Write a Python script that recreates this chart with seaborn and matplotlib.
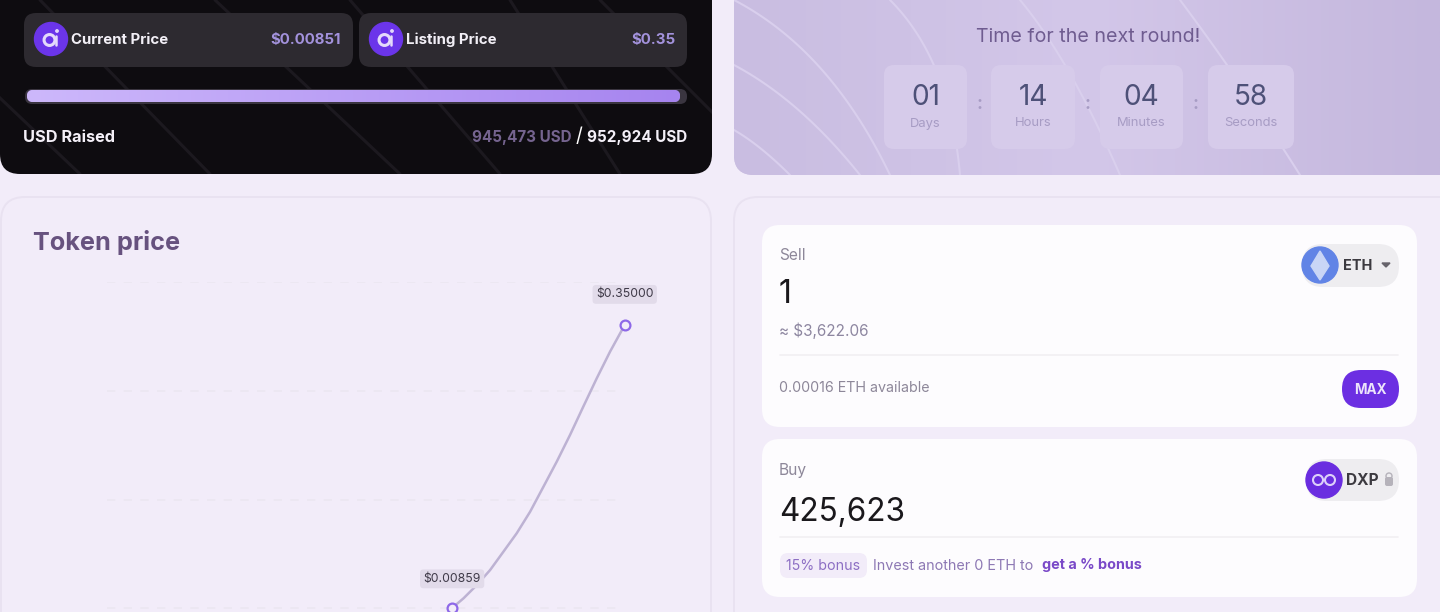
# -*- coding: utf-8 -*-
import numpy as np
import pandas as pd
import matplotlib.pyplot as plt
import seaborn as sns
from matplotlib.patches import FancyBboxPatch, Circle, Polygon

# token price curve, rounds on x and price in USD on y
curve_round = [3.0, 3.066, 3.143, 3.22, 3.297, 3.374, 3.452, 3.529, 3.606, 3.683, 3.76, 3.838, 3.915, 4.0]
curve_price = [0.00859, 0.0203, 0.0363, 0.0544, 0.0765, 0.0987, 0.1248, 0.1549, 0.1851, 0.2173,
               0.2515, 0.2857, 0.3178, 0.35]
point_round = [3.0, 4.0]
point_price = [0.00859, 0.35]
point_labels = ["$0.00859", "$0.35000"]
grid_prices = [0.00859, 0.1389, 0.2703, 0.4018]

# countdown
timer_values = ["01", "14", "04", "58"]
timer_units = ["Days", "Hours", "Minutes", "Seconds"]

BG = "#f2ecf9"
PURPLE = "#6c2fe2"
LILAC = "#a392dc"

sns.set_theme(style="white")
plt.rcParams["font.family"] = ["Inter", "DejaVu Sans"]

fig = plt.figure(figsize=(14.4, 6.12), dpi=100, facecolor=BG)

# page layer in screen pixels
page = fig.add_axes([0, 0, 1, 1])
page.set_axis_off()


def box(x0, y0, x1, y1, r, color, edge="none", lw=0, z=1, alpha=1):
    p = FancyBboxPatch((x0, y0), x1 - x0, y1 - y0,
                       boxstyle=f"round,pad=0,rounding_size={r}",
                       facecolor=color, edgecolor=edge, linewidth=lw, zorder=z, alpha=alpha)
    page.add_patch(p)
    return p


def label(x, y, s, px, color, ha="left", weight="normal"):
    page.text(x, y + 1.5, s, fontsize=px / 1.389, color=color, ha=ha, va="center",
              weight=weight, zorder=6)


def logo(x, y, r=16.5):
    page.add_patch(Circle((x, y), r, color="#6b35ea", zorder=4))
    page.add_patch(Circle((x - 1.5, y + 1), r * 0.33, facecolor="none", edgecolor="#e4dafb",
                          linewidth=2.2, zorder=5))
    page.plot([x + 4.5, x + 4.5], [y - 3, y + 6], color="#e4dafb", lw=1.8, zorder=5)
    page.add_patch(Circle((x + 6, y - 8), 1.2, color="#e4dafb", zorder=5))


# dark panel
dark = box(0, -30, 712, 174, 20, "#0e0c10")
for x0, x1, y0, y1 in [(40, 210, 0, 174), (215, 400, 0, 174), (350, 500, 0, 174),
                       (510, 620, 0, 174), (-40, 80, 60, 174), (600, 720, 0, 120)]:
    ln, = page.plot([x0, x1], [y0, y1], color="#1c191f", lw=2.2, zorder=1.5)
    ln.set_clip_path(dark)

box(24, 13, 353, 67, 12, "#2d2a30", z=2)
box(359, 13, 687, 67, 12, "#2d2a30", z=2)
logo(51, 39)
logo(386, 39)
label(71, 38.5, "Current Price", 15, "#f2eff6", weight="bold")
label(406, 38.5, "Listing Price", 15, "#f2eff6", weight="bold")
label(341, 38.5, "$0.00851", 15, LILAC, ha="right", weight="bold")
label(676, 38.5, "$0.35", 15, LILAC, ha="right", weight="bold")

box(25, 89, 687, 104, 7, "#3a3540", z=2)
bar = box(27, 90, 680, 102, 6, "#b899f5", z=3)
grad = np.linspace(0, 1, 256).reshape(1, -1)
im = page.imshow(grad, extent=(27, 680, 102, 90), aspect="auto", zorder=3.1,
                 cmap=sns.blend_palette(["#cdb8fb", "#a684ef"], as_cmap=True))
im.set_clip_path(bar)

label(23, 136, "USD Raised", 16.3, "#f4f0f8", weight="bold")
label(687, 136, "952,924 USD", 15.2, "#f4f0f8", ha="right", weight="bold")
label(579, 136, "/", 19, "white", ha="center")
label(572, 136, "945,473 USD", 15.2, "#75648f", ha="right", weight="bold")

# purple panel
timer = box(734, -30, 1470, 175, 20, "#c9bde0")
glow = page.imshow(np.linspace(0, 1, 256).reshape(1, -1), extent=(734, 1440, 175, -30), aspect="auto",
                   zorder=1.1, cmap=sns.blend_palette(["#c9bde1", "#d3c7e9", "#c4b7dd"], as_cmap=True))
glow.set_clip_path(timer)
for x0, y0, x1, y1, x2, y2 in [(734, 0, 830, 50, 890, 175), (734, 65, 800, 100, 860, 175),
                               (734, 130, 760, 145, 790, 175), (890, 0, 950, 60, 960, 175),
                               (1020, 0, 1070, 60, 1120, 175), (1180, 0, 1240, 80, 1300, 175)]:
    t = np.linspace(0, 1, 40)
    xs = (1 - t) ** 2 * x0 + 2 * t * (1 - t) * x1 + t ** 2 * x2
    ys = (1 - t) ** 2 * y0 + 2 * t * (1 - t) * y1 + t ** 2 * y2
    ln, = page.plot(xs, ys, color="#d9cfed", lw=1.5, zorder=1.5)
    ln.set_clip_path(timer)

label(1088, 35, "Time for the next round!", 19.6, "#6f5c90", ha="center")
box_edges = [(884, 967), (991, 1075), (1100, 1183), (1208, 1294)]
for (x0, x1), val, unit in zip(box_edges, timer_values, timer_units):
    box(x0, 65, x1, 149, 10, "#d6cbea", z=2)
    label((x0 + x1) / 2, 96, val, 28, "#4e5178", ha="center")
    label((x0 + x1) / 2, 122, unit, 13, "#a79cc4", ha="center")
for x in [979, 1087, 1195]:
    label(x, 103, ":", 18, "#a79cc4", ha="center", weight="bold")

# lower panels
box(1, 197, 711, 660, 24, BG, edge="#e9e2f1", lw=1.4)
box(734, 197, 1470, 660, 24, BG, edge="#e9e2f1", lw=1.4)
label(33, 241, "Token price", 25.3, "#67527f", weight="bold")

# swap cards
box(762, 225, 1417, 427, 18, "#fdfcfe", z=2)
box(762, 439, 1417, 597, 18, "#fdfcfe", z=2)
label(779, 254, "Sell", 15.5, "#8d8799")
label(779, 293, "1", 32, "#1a181c")
label(779, 329, "≈ $3,622.06", 15.3, "#8d86a0")
label(779, 387, "0.00016 ETH available", 14.3, "#8d8799")
label(779, 469, "Buy", 15.5, "#8d8799")
label(779, 511, "425,623", 31.5, "#1a181c")
page.plot([780, 1398], [355, 355], color="#f1eff3", lw=1.2, zorder=3)
page.plot([780, 1398], [537, 537], color="#f1eff3", lw=1.2, zorder=3)

box(1302, 244, 1399, 287, 21, "#eeedf0", z=3)
page.add_patch(Circle((1320, 265), 18, color="#6184e6", zorder=4))
page.add_patch(Polygon([(1320, 251), (1329, 266), (1320, 280), (1311, 266)], color="#c9d6f6", zorder=5))
label(1343, 264, "ETH", 14.5, "#3c3a40", weight="bold")
page.add_patch(Polygon([(1382, 263), (1390, 263), (1386, 267)], color="#66636b", zorder=5))

box(1342, 370, 1399, 408, 19, PURPLE, z=3)
label(1370.5, 388, "MAX", 13.5, "#ece4fb", ha="center", weight="bold")

box(1306, 459, 1399, 501, 21, "#eeedf0", z=3)
page.add_patch(Circle((1324, 480), 18, color="#6a2de0", zorder=4))
for cx in [1318, 1330]:
    page.add_patch(Circle((cx, 480), 5, facecolor="none", edgecolor="#ddd0fa", linewidth=1.5, zorder=5))
label(1346, 479, "DXP", 15.5, "#3c3a40", weight="bold")
box(1385, 477, 1393, 486, 2, "#b5b2ba", z=5)
page.add_patch(Circle((1389, 476), 3, facecolor="none", edgecolor="#b5b2ba", linewidth=1, zorder=5))

box(780, 553, 867, 578, 8, "#f2ecf9", z=3)
label(823.5, 564, "15% bonus", 14.2, "#8d6fc4", ha="center")
label(873, 564, "Invest another 0 ETH to", 14.4, "#8d78b4")
label(1042, 564, "get a % bonus", 14.4, "#7a49c8", weight="bold")

page.set_xlim(0, 1440)
page.set_ylim(612, 0)

# price chart
ax = fig.add_axes([107 / 1440, 0, (618 - 107) / 1440, 330 / 612])
ax.patch.set_alpha(0)
curve = pd.DataFrame({"round": curve_round, "price": curve_price})
points = pd.DataFrame({"round": point_round, "price": point_price})
sns.lineplot(data=curve, x="round", y="price", color="#bdb2d3", linewidth=1.8,
             estimator=None, errorbar=None, clip_on=False, ax=ax)
sns.scatterplot(data=points, x="round", y="price", s=50, facecolor=BG, edgecolor="#8e68e8",
                linewidth=1.6, clip_on=False, zorder=5, ax=ax)
for x, y, s, off in zip(point_round, point_price, point_labels, [21, 22]):
    ax.annotate(s, (x, y), xytext=(0, off), textcoords="offset points", ha="center", va="center",
                fontsize=8.8, color="#3f3a48", annotation_clip=False,
                bbox=dict(boxstyle="round,pad=0.28", facecolor="#e2dbea", edgecolor="none"))

ax.set_xlim(1, 3.961)
ax.set_ylim(0.00376, 0.4018)
ax.set_yticks(grid_prices)
ax.set_yticklabels([])
ax.set_xticks([])
ax.set_xlabel("")
ax.set_ylabel("")
ax.tick_params(left=False, bottom=False)
ax.yaxis.grid(True, color="#ebe6f1", linestyle=(0, (5, 5)), linewidth=1.2)
ax.set_axisbelow(True)
sns.despine(ax=ax, left=True, bottom=True)

fig.savefig("out.png", dpi=100, facecolor=BG)
